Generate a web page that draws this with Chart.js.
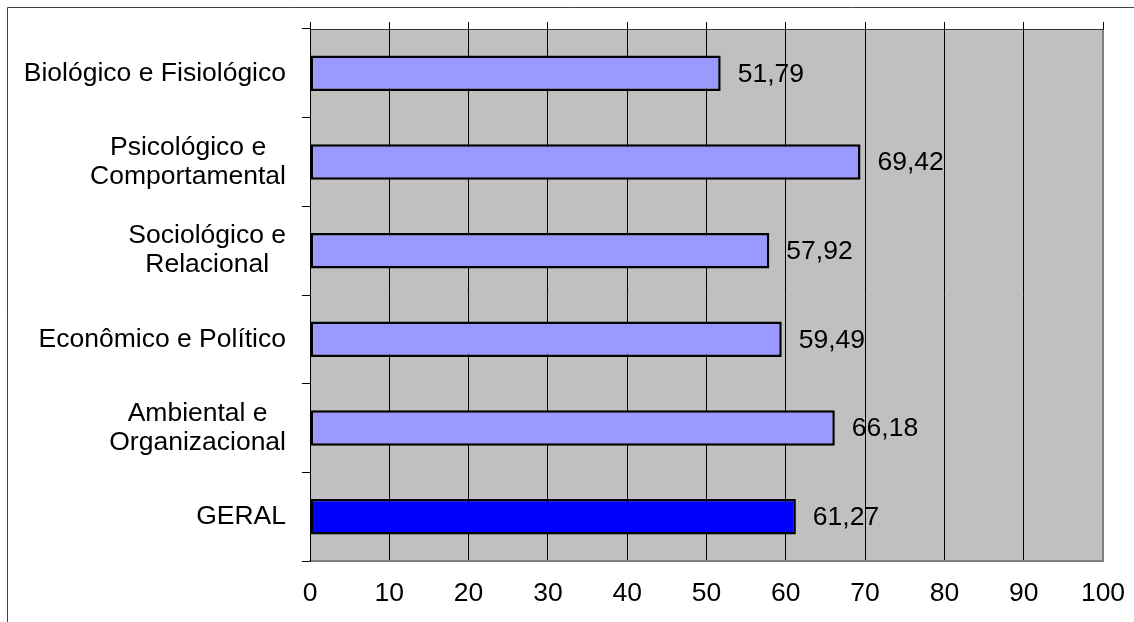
<!DOCTYPE html>
<html>
<head>
<meta charset="utf-8">
<script src="https://cdn.jsdelivr.net/npm/chart.js@4/dist/chart.umd.min.js"></script>
<style>
  html, body { margin: 0; padding: 0; background: #fff; }
  canvas { display: block; }
</style>
</head>
<body>
<canvas id="chart" width="1134" height="622"></canvas>
<script>
// Dimensions (one label line per array entry)
const categories = [
  ['Biológico e Fisiológico'],
  ['Psicológico e', 'Comportamental'],
  ['Sociológico e', 'Relacional'],
  ['Econômico e Político'],
  ['Ambiental e', 'Organizacional'],
  ['GERAL']
];
// Scores per dimension
const scores = [51.79, 69.42, 57.92, 59.49, 66.18, 61.27];
const barColors = ['#9999FF', '#9999FF', '#9999FF', '#9999FF', '#9999FF', '#0000FF'];
// Value axis ticks
const valueTicks = [0, 10, 20, 30, 40, 50, 60, 70, 80, 90, 100];

const FONT_FAMILY = '"Liberation Sans", Arial, sans-serif';
const FONT_SIZE = 26.5;
const FONT = FONT_SIZE + 'px ' + FONT_FAMILY;

const fmt = v => v.toFixed(2).replace('.', ',');

const frame = {
  id: 'frame',
  beforeDraw(chart) {
    const { ctx, chartArea: a, width, height } = chart;
    ctx.save();
    ctx.fillStyle = '#fff';
    ctx.fillRect(0, 0, width, height);
    ctx.strokeStyle = '#404040';
    ctx.lineWidth = 1;
    ctx.beginPath();
    ctx.moveTo(7.5, height);
    ctx.lineTo(7.5, 7.5);
    ctx.lineTo(width, 7.5);
    ctx.stroke();
    ctx.fillStyle = '#C0C0C0';
    ctx.fillRect(a.left, a.top, a.right - a.left, a.bottom - a.top);
    ctx.restore();
  },
  afterDatasetsDraw(chart) {
    const { ctx } = chart;
    const meta = chart.getDatasetMeta(0);
    ctx.save();
    ctx.font = FONT;
    ctx.fillStyle = '#000';
    ctx.textAlign = 'left';
    ctx.textBaseline = 'middle';
    meta.data.forEach((bar, i) => {
      ctx.fillText(fmt(scores[i]), bar.x + 17, bar.y + 1);
    });
    ctx.restore();
  },
  afterDraw(chart) {
    // category labels: lines centred on each other, block right-aligned
    const { ctx } = chart;
    const y = chart.scales.y;
    const rightEdge = 286;
    const lineH = 29;
    ctx.save();
    ctx.font = FONT;
    ctx.fillStyle = '#000';
    ctx.textAlign = 'center';
    ctx.textBaseline = 'middle';
    categories.forEach((lines, i) => {
      const cy = y.getPixelForValue(i);
      const maxW = Math.max(...lines.map(l => ctx.measureText(l).width));
      const cx = rightEdge - maxW / 2;
      const y0 = cy - (lines.length - 1) * lineH / 2;
      lines.forEach((l, k) => ctx.fillText(l, cx, y0 + k * lineH));
    });
    ctx.restore();
  }
};

const noEdgePadding = s => { s.paddingLeft = 0; s.paddingRight = 0; s.paddingTop = 0; s.paddingBottom = 0; };

new Chart(document.getElementById('chart'), {
  type: 'bar',
  data: {
    labels: categories,
    datasets: [{
      data: scores,
      backgroundColor: barColors,
      borderColor: '#000',
      borderWidth: 2.5,
      borderSkipped: false,
      barPercentage: 0.4,
      categoryPercentage: 1,
      xAxisID: 'x',
      yAxisID: 'y'
    }]
  },
  options: {
    indexAxis: 'y',
    responsive: false,
    animation: false,
    devicePixelRatio: 1,
    layout: { padding: { top: 22, right: 31, bottom: 0, left: 0 } },
    plugins: { legend: { display: false }, tooltip: { enabled: false } },
    scales: {
      x: {
        type: 'linear',
        position: 'bottom',
        min: 0,
        max: 100,
        afterBuildTicks: s => { s.ticks = valueTicks.map(v => ({ value: v })); },
        afterFit: s => { s.height = 61; noEdgePadding(s); },
        ticks: {
          color: '#000',
          font: { family: FONT_FAMILY, size: FONT_SIZE },
          padding: 17,
          maxRotation: 0
        },
        grid: {
          drawTicks: false,
          color: c => c.tick && c.tick.value === 100 ? '#808080' : (c.tick && c.tick.value === 0 ? 'rgba(0,0,0,0)' : '#000'),
          lineWidth: c => c.tick && c.tick.value === 100 ? 2 : 1
        },
        border: { color: '#808080', width: 2 }
      },
      xTop: {
        type: 'linear',
        position: 'top',
        min: 0,
        max: 100,
        afterBuildTicks: s => { s.ticks = valueTicks.map(v => ({ value: v })); },
        afterFit: s => { s.height = 7; noEdgePadding(s); },
        ticks: { display: false },
        grid: { drawOnChartArea: false, drawTicks: true, tickLength: 7, color: '#000' },
        border: { color: '#333', width: 1 }
      },
      y: {
        type: 'category',
        position: 'left',
        afterFit: s => { s.width = 310; noEdgePadding(s); },
        ticks: { display: false },
        grid: { drawOnChartArea: false, drawTicks: true, tickLength: 8, color: '#000', offset: true },
        border: { color: '#000', width: 1 }
      }
    }
  },
  plugins: [frame]
});
</script>
</body>
</html>
